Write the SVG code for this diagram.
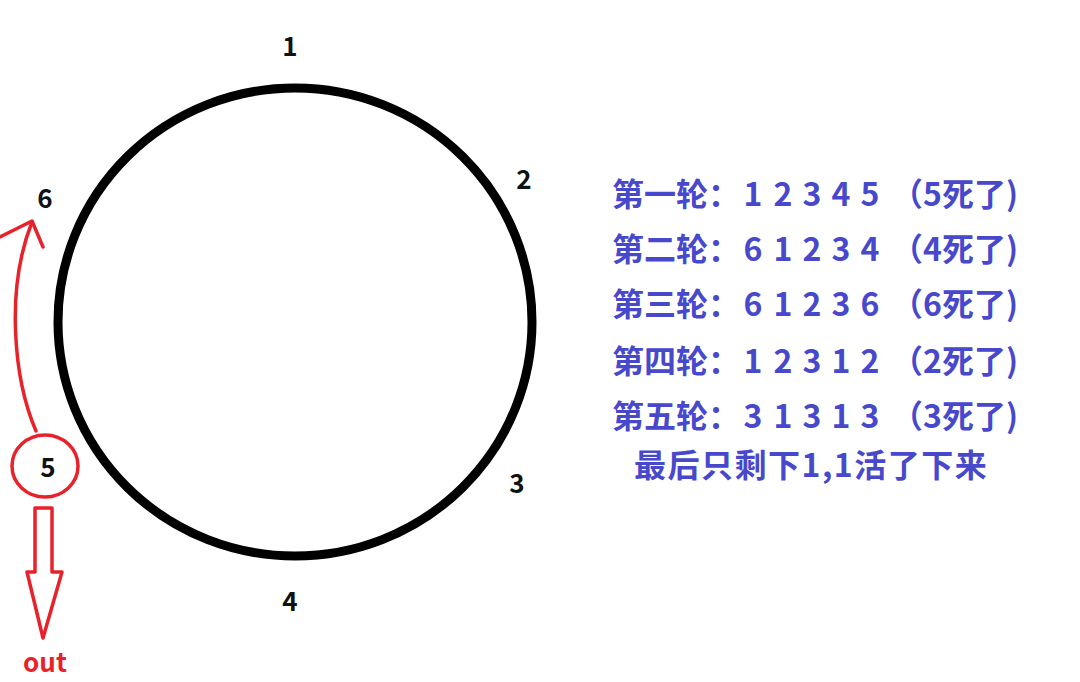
<svg xmlns="http://www.w3.org/2000/svg" width="1080" height="682" viewBox="0 0 1080 682">
<style>
.num{font-family:"Noto Sans CJK SC","Liberation Sans",sans-serif;font-weight:bold;font-size:26px;fill:#111;text-anchor:middle}
.t{font-family:"Noto Sans CJK SC","Liberation Sans",sans-serif;font-weight:bold;font-size:32px;fill:#4848cc}
.d{text-anchor:middle}
.red{fill:none;stroke:#e8222b;stroke-width:3.5;stroke-linejoin:round;stroke-linecap:round}
</style>
<rect width="1080" height="682" fill="#fff"/>
<g id="ring">
<ellipse cx="295" cy="322" rx="237" ry="234" fill="none" stroke="#000" stroke-width="9"/>
</g>
<g id="n1"><text class="num" x="290" y="56">1</text></g>
<g id="n2"><text class="num" x="524" y="189">2</text></g>
<g id="n3"><text class="num" x="517" y="493">3</text></g>
<g id="n4"><text class="num" x="290" y="611">4</text></g>
<g id="n6"><text class="num" x="45" y="208">6</text></g>
<g id="n5">
<ellipse class="red" cx="45" cy="466" rx="33" ry="31"/>
<text class="num" x="48" y="477">5</text>
</g>
<g id="connectors">
<path class="red" d="M36,431 C14,380 5,290 32,222"/>
<path class="red" d="M0,237 L32,221 L43,247"/>
<path class="red" d="M35,508 L52,508 L52,572 L62,572 L43,638 L27,572 L35,572 Z"/>
</g>
<g id="out"><text x="45" y="672" style="font-family:'Noto Sans CJK SC','Liberation Sans',sans-serif;font-weight:bold;font-size:26px;fill:#e8222b;text-anchor:middle">out</text></g>
<g id="rounds">
<text class="t" x="612" y="206">第一轮：</text>
<text class="t d" y="206"><tspan x="753">1</tspan><tspan x="783">2</tspan><tspan x="812">3</tspan><tspan x="841">4</tspan><tspan x="870">5</tspan></text>
<text class="t" x="891" y="206">（5死了)</text>
<text class="t" x="612" y="261">第二轮：</text>
<text class="t d" y="261"><tspan x="753">6</tspan><tspan x="783">1</tspan><tspan x="812">2</tspan><tspan x="841">3</tspan><tspan x="870">4</tspan></text>
<text class="t" x="891" y="261">（4死了)</text>
<text class="t" x="612" y="316">第三轮：</text>
<text class="t d" y="316"><tspan x="753">6</tspan><tspan x="783">1</tspan><tspan x="812">2</tspan><tspan x="841">3</tspan><tspan x="870">6</tspan></text>
<text class="t" x="891" y="316">（6死了)</text>
<text class="t" x="612" y="373">第四轮：</text>
<text class="t d" y="373"><tspan x="753">1</tspan><tspan x="783">2</tspan><tspan x="812">3</tspan><tspan x="841">1</tspan><tspan x="870">2</tspan></text>
<text class="t" x="891" y="373">（2死了)</text>
<text class="t" x="612" y="428">第五轮：</text>
<text class="t d" y="428"><tspan x="753">3</tspan><tspan x="783">1</tspan><tspan x="812">3</tspan><tspan x="841">1</tspan><tspan x="870">3</tspan></text>
<text class="t" x="891" y="428">（3死了)</text>
<text class="t" x="634" y="477" letter-spacing="1.5">最后只剩下1,1活了下来</text>
</g>
</svg>
